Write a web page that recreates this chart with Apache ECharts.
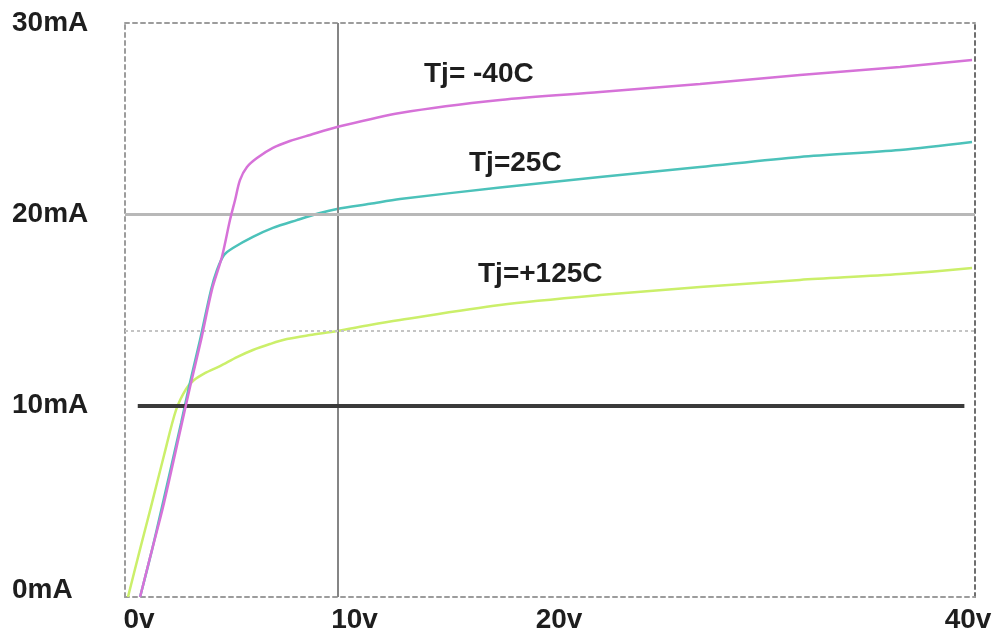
<!DOCTYPE html>
<html>
<head>
<meta charset="utf-8">
<script src="https://cdn.jsdelivr.net/npm/echarts@6/dist/echarts.min.js"></script>
<style>
  html, body { margin: 0; padding: 0; background: #ffffff; }
  #chart { width: 1003px; height: 641px; }
</style>
</head>
<body>
<div id="chart"></div>
<script>
// ---- data ----
const xTickValues = [0, 10, 20, 40];
const xTickLabels = ['0v', '10v', '20v', '40v'];
const yTickValues = [0, 10, 20, 30];
const yTickLabels = ['0mA', '10mA', '20mA', '30mA'];

const curveLabels = ['Tj= -40C', 'Tj=25C', 'Tj=+125C'];

// Tj = -40C
const voltsM40 = [0.71, 1.27, 1.79, 2.68, 3.06, 3.58, 4.09, 4.56, 4.94, 5.18, 5.41, 5.74, 6.21, 6.96, 7.76, 8.71, 9.98, 12.94, 17.65, 22.35, 27.06, 31.76, 36.47, 39.86];
const ampsM40  = [0.00, 2.46, 4.70, 9.09, 10.98, 13.43, 16.05, 17.77, 19.70, 20.75, 21.79, 22.47, 22.94, 23.47, 23.83, 24.15, 24.56, 25.30, 25.98, 26.39, 26.81, 27.28, 27.70, 28.07];

// Tj = 25C
const volts25 = [0.71, 1.27, 1.74, 2.64, 3.01, 3.53, 4.05, 4.33, 4.66, 5.08, 6.02, 6.96, 8.09, 9.18, 9.98, 11.53, 12.94, 17.65, 22.35, 27.06, 31.76, 36.47, 39.86];
const amps25  = [0.00, 2.46, 4.70, 9.09, 10.98, 13.43, 16.05, 17.09, 17.87, 18.24, 18.82, 19.29, 19.70, 20.07, 20.28, 20.55, 20.80, 21.40, 21.95, 22.47, 23.00, 23.36, 23.78];

// Tj = +125C
const volts125 = [0.14, 0.70, 1.22, 1.84, 2.40, 2.87, 3.25, 3.76, 4.47, 5.27, 6.02, 6.82, 7.62, 8.71, 9.98, 11.53, 12.94, 17.65, 22.35, 27.06, 31.76, 36.47, 39.86];
const amps125  = [0.00, 2.46, 4.70, 7.42, 9.77, 10.87, 11.34, 11.70, 12.07, 12.54, 12.91, 13.22, 13.48, 13.69, 13.90, 14.22, 14.48, 15.26, 15.78, 16.20, 16.57, 16.88, 17.20];

// reference lines
const refVolt = 10;          // vertical line
const refAmpGrid = 20;       // light grey horizontal
const refAmpDotted = 13.9;   // dotted horizontal
const refAmpDark = 10;       // dark horizontal
const refDarkSpan = [0.6, 39.5];

// ---- chart ----
const zip = (xs, ys) => xs.map((x, i) => [x, ys[i]]);
const FONT = 'Liberation Sans, Arial, sans-serif';
const labelBase = { fontFamily: FONT, fontWeight: 'bold', fontSize: 28, color: '#1e1e1e' };

const xRich = {
  x0:  Object.assign({}, labelBase, { padding: [0, 0, 0, 28] }),
  x10: Object.assign({}, labelBase, { padding: [0, 0, 0, 34] }),
  x20: Object.assign({}, labelBase, { padding: [0, 0, 0, 18] }),
  x40: Object.assign({}, labelBase, { padding: [0, 14, 0, 0] })
};
const yRich = {
  y0:  Object.assign({}, labelBase, { padding: [0, 0, 14, 0] }),
  y10: Object.assign({}, labelBase),
  y20: Object.assign({}, labelBase),
  y30: Object.assign({}, labelBase)
};

const borderStyle = { type: [4, 4], color: '#9c9c9c', width: 2 };

const chart = echarts.init(document.getElementById('chart'), null, { renderer: 'canvas' });
chart.setOption({
  backgroundColor: '#ffffff',
  animation: false,
  grid: { left: 125, right: 28, top: 23, bottom: 44 },
  xAxis: [{
    type: 'value', min: 0, max: 40, interval: 10, position: 'bottom',
    axisLine: { show: true, onZero: false, lineStyle: borderStyle },
    axisTick: { show: false },
    splitLine: { show: false },
    axisLabel: {
      show: true, margin: 9, showMinLabel: true, showMaxLabel: true,
      formatter: v => {
        const i = xTickValues.indexOf(v);
        return i < 0 ? '' : '{x' + v + '|' + xTickLabels[i] + '}';
      },
      rich: xRich
    }
  }, {
    type: 'value', min: 0, max: 40, interval: 10, position: 'top',
    axisLine: { show: true, onZero: false, lineStyle: borderStyle },
    axisTick: { show: false }, splitLine: { show: false }, axisLabel: { show: false }
  }],
  yAxis: [{
    type: 'value', min: 0, max: 30, interval: 10, position: 'left',
    axisLine: { show: true, onZero: false, lineStyle: borderStyle },
    axisTick: { show: false },
    splitLine: { show: false },
    axisLabel: {
      show: true, align: 'left', margin: 113, showMinLabel: true, showMaxLabel: true,
      formatter: v => {
        const i = yTickValues.indexOf(v);
        return i < 0 ? '' : '{y' + v + '|' + yTickLabels[i] + '}';
      },
      rich: yRich
    }
  }, {
    type: 'value', min: 0, max: 30, interval: 10, position: 'right',
    axisLine: { show: true, onZero: false, lineStyle: { type: [4, 4], color: '#6e6e6e', width: 2 } },
    axisTick: { show: false }, splitLine: { show: false }, axisLabel: { show: false }
  }],
  series: [
    {
      type: 'line', data: [], z: 1, silent: true,
      markLine: {
        silent: true, symbol: 'none', animation: false,
        label: { show: false },
        data: [
          { xAxis: refVolt, lineStyle: { color: '#858585', width: 2, type: 'solid' } },
          { yAxis: refAmpGrid, lineStyle: { color: '#b8b8b8', width: 3, type: 'solid' } },
          { yAxis: refAmpDotted, lineStyle: { color: '#c4c4c4', width: 2, type: [3, 3] } },
          [
            { coord: [refDarkSpan[0], refAmpDark], lineStyle: { color: '#3a3a3a', width: 4, type: 'solid' } },
            { coord: [refDarkSpan[1], refAmpDark] }
          ]
        ]
      }
    },
    {
      name: curveLabels[2], type: 'line', z: 3, showSymbol: false, smooth: 0.3,
      lineStyle: { color: '#cbef6a', width: 2.5 },
      data: zip(volts125, amps125)
    },
    {
      name: curveLabels[1], type: 'line', z: 4, showSymbol: false, smooth: 0.3,
      lineStyle: { color: '#4cc2ba', width: 2.5 },
      data: zip(volts25, amps25)
    },
    {
      name: curveLabels[0], type: 'line', z: 5, showSymbol: false, smooth: 0.3,
      lineStyle: { color: '#d672d8', width: 2.5 },
      data: zip(voltsM40, ampsM40)
    }
  ],
  graphic: [
    { type: 'text', x: 424, y: 74, z: 10,
      style: { text: curveLabels[0], font: 'bold 28px ' + FONT, fill: '#1e1e1e', verticalAlign: 'middle' } },
    { type: 'text', x: 469, y: 163, z: 10,
      style: { text: curveLabels[1], font: 'bold 28px ' + FONT, fill: '#1e1e1e', verticalAlign: 'middle' } },
    { type: 'text', x: 478, y: 274, z: 10,
      style: { text: curveLabels[2], font: 'bold 28px ' + FONT, fill: '#1e1e1e', verticalAlign: 'middle' } }
  ]
});
</script>
</body>
</html>
